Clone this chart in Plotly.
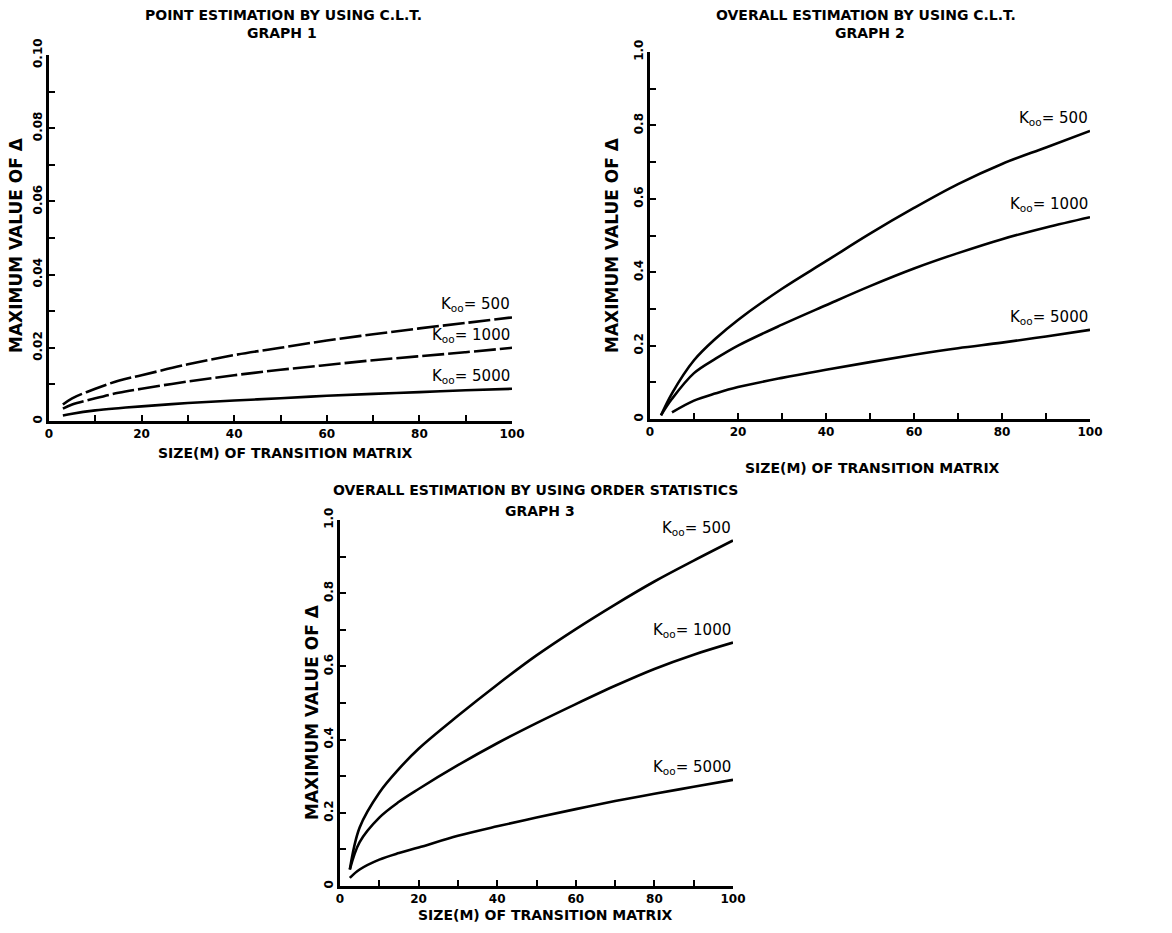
import plotly.graph_objects as go

# ---------------- data ----------------
m_g1 = [3, 5, 10, 15, 20, 30, 40, 50, 60, 70, 80, 90, 100]
g1_k500 = [0.0045, 0.0062, 0.0088, 0.0110, 0.0125, 0.0155, 0.0180, 0.0200, 0.0220, 0.0237, 0.0253, 0.0268, 0.0283]
g1_k1000 = [0.0034, 0.0045, 0.0062, 0.0077, 0.0088, 0.0108, 0.0125, 0.0140, 0.0153, 0.0166, 0.0177, 0.0188, 0.0200]
g1_k5000 = [0.0015, 0.0020, 0.0029, 0.0035, 0.0040, 0.0049, 0.0056, 0.0062, 0.0069, 0.0074, 0.0079, 0.0084, 0.0088]

m_g2 = [2.5, 5, 10, 15, 20, 30, 40, 50, 60, 70, 80, 90, 100]
g2_k500 = [0.01, 0.07, 0.16, 0.22, 0.27, 0.355, 0.43, 0.505, 0.575, 0.64, 0.695, 0.74, 0.785]
g2_k1000 = [0.01, 0.055, 0.125, 0.165, 0.20, 0.257, 0.31, 0.362, 0.41, 0.452, 0.49, 0.522, 0.55]
g2_k5000 = [None, 0.018, 0.05, 0.07, 0.087, 0.112, 0.134, 0.155, 0.175, 0.193, 0.208, 0.225, 0.243]

m_g3 = [2.5, 5, 10, 15, 20, 30, 40, 50, 60, 70, 80, 90, 100]
g3_k500 = [0.045, 0.16, 0.255, 0.32, 0.375, 0.465, 0.55, 0.63, 0.702, 0.769, 0.832, 0.889, 0.944]
g3_k1000 = [0.045, 0.12, 0.187, 0.23, 0.265, 0.33, 0.39, 0.445, 0.497, 0.547, 0.593, 0.632, 0.665]
g3_k5000 = [0.022, 0.045, 0.072, 0.09, 0.105, 0.137, 0.163, 0.187, 0.21, 0.232, 0.252, 0.271, 0.29]

k_labels = ["500", "1000", "5000"]

x_tickvals = [0, 10, 20, 30, 40, 50, 60, 70, 80, 90, 100]
x_ticktext = ["0", "", "20", "", "40", "", "60", "", "80", "", "100"]
y1_tickvals = [0, 0.01, 0.02, 0.03, 0.04, 0.05, 0.06, 0.07, 0.08, 0.09, 0.10]
y1_ticktext = ["0", "", "0.02", "", "0.04", "", "0.06", "", "0.08", "", "0.10"]
y2_tickvals = [0, 0.1, 0.2, 0.3, 0.4, 0.5, 0.6, 0.7, 0.8, 0.9, 1.0]
y2_ticktext = ["0", "", "0.2", "", "0.4", "", "0.6", "", "0.8", "", "1.0"]

titles = [
    ("POINT ESTIMATION BY USING C.L.T.", "GRAPH 1"),
    ("OVERALL ESTIMATION BY USING C.L.T.", "GRAPH 2"),
    ("OVERALL ESTIMATION BY USING ORDER STATISTICS", "GRAPH 3"),
]
x_title = "SIZE(M) OF TRANSITION MATRIX"
y_title = "MAXIMUM VALUE OF Δ"

# ---------------- layout helpers ----------------
W, H = 1172, 933
FONT = "DejaVu Sans"


def px(x):
    return x / W


def py(y):
    return 1 - y / H


fig = go.Figure()

graphs = [
    (m_g1, [g1_k500, g1_k1000, g1_k5000], "", ["22px,4px", "22px,4px", "solid"]),
    (m_g2, [g2_k500, g2_k1000, g2_k5000], "2", ["solid", "solid", "solid"]),
    (m_g3, [g3_k500, g3_k1000, g3_k5000], "3", ["solid", "solid", "solid"]),
]

for xs, series, suf, dashes in graphs:
    for ys, lab, dash in zip(series, k_labels, dashes):
        fig.add_trace(go.Scatter(
            x=xs, y=ys, mode="lines", name="K = " + lab,
            line=dict(color="black", width=2.6, shape="spline", dash=dash),
            xaxis="x" + suf, yaxis="y" + suf, showlegend=False,
            hoverinfo="skip"))
        last = [v for v in ys if v is not None][-1]
        fig.add_annotation(
            x=100, y=last, xref="x" + suf, yref="y" + suf,
            text="K<sub>oo</sub>= " + lab, showarrow=False,
            xanchor="right", yanchor="bottom", yshift=1,
            font=dict(family=FONT, size=15, color="black"))

domains = [
    ((49, 512), (421, 55)),
    ((650, 1090), (419, 52)),
    ((340, 733), (886, 520)),
]

common = dict(showline=True, linecolor="black", linewidth=2.6, ticks="inside",
              ticklen=6, tickwidth=2, tickcolor="black", showgrid=False,
              zeroline=False, tickmode="array", fixedrange=True, automargin=False,
              tickfont=dict(family=FONT, size=12, color="black", weight="bold"))

layout_axes = {}
for i, ((x0, x1), (yb, yt)) in enumerate(domains):
    suf = "" if i == 0 else str(i + 1)
    layout_axes["xaxis" + suf] = dict(common, domain=[px(x0), px(x1)], range=[0, 100],
                                      anchor="y" + suf, tickvals=x_tickvals,
                                      ticktext=x_ticktext)
    if i == 0:
        yv, ytx, yr = y1_tickvals, y1_ticktext, [0, 0.10]
    else:
        yv, ytx, yr = y2_tickvals, y2_ticktext, [0, 1.0]
    layout_axes["yaxis" + suf] = dict(common, domain=[py(yb), py(yt)], range=yr,
                                      anchor="x" + suf, tickvals=yv, ticktext=ytx,
                                      tickangle=-90)

fig.update_layout(**layout_axes)

title_pos = [((283, 15), (282, 33)), ((866, 15), (870, 33)), ((535, 490), (540, 511))]
xtitle_pos = [(285, 453), (872, 468), (545, 915)]
ytitle_pos = [(16, 245), (612, 245), (312, 712)]

TFONT = dict(family=FONT, size=14, color="black", weight="bold")
YFONT = dict(family=FONT, size=17, color="black", weight="bold")

for (t1, t2), ((a1x, a1y), (a2x, a2y)), (xx, xy), (yx, yy) in zip(
        titles, title_pos, xtitle_pos, ytitle_pos):
    fig.add_annotation(x=px(a1x), y=py(a1y), xref="paper", yref="paper",
                       text=t1, showarrow=False, xanchor="center", yanchor="middle",
                       font=TFONT)
    fig.add_annotation(x=px(a2x), y=py(a2y), xref="paper", yref="paper",
                       text=t2, showarrow=False, xanchor="center", yanchor="middle",
                       font=TFONT)
    fig.add_annotation(x=px(xx), y=py(xy), xref="paper", yref="paper",
                       text=x_title, showarrow=False, xanchor="center", yanchor="middle",
                       font=TFONT)
    fig.add_annotation(x=px(yx), y=py(yy), xref="paper", yref="paper",
                       text=y_title, showarrow=False, xanchor="center", yanchor="middle",
                       textangle=-90, font=YFONT)

fig.update_layout(width=W, height=H, margin=dict(l=0, r=0, t=0, b=0, pad=0),
                  paper_bgcolor="white", plot_bgcolor="white",
                  showlegend=False)

fig.write_html("out.html",
               config={"displayModeBar": False, "staticPlot": True},
               post_script="document.body.style.margin='0';"
                           "document.body.style.overflow='hidden';")
